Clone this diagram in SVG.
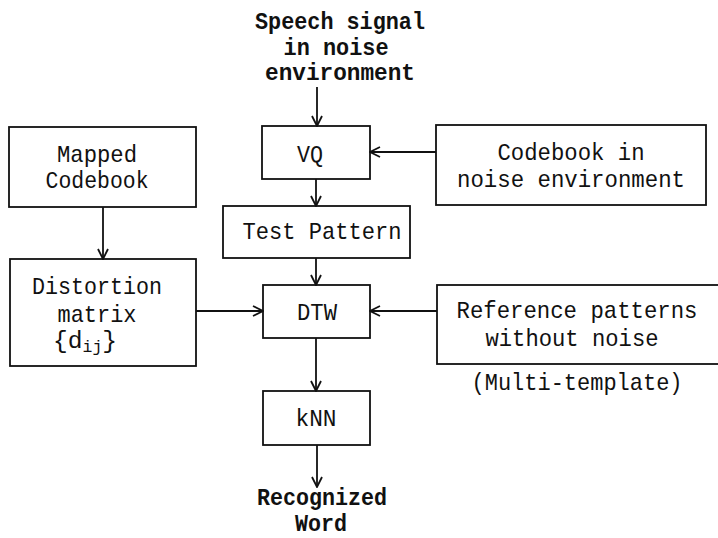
<svg xmlns="http://www.w3.org/2000/svg" width="718" height="538" viewBox="0 0 718 538">
<style>
.box{fill:none;stroke:#111;stroke-width:1.8}
.lbl{font-family:"Liberation Mono","DejaVu Sans Mono",monospace;font-size:24px;fill:#111;text-anchor:middle}
.bold{font-weight:bold}
.sub{font-size:16px}
.con{fill:none;stroke:#111;stroke-width:1.8}
</style>
<defs>
<marker id="arr" viewBox="0 0 12 12" refX="11" refY="6" markerWidth="12" markerHeight="12" markerUnits="userSpaceOnUse" orient="auto">
<path d="M1,1 L11,6 L1,11" fill="none" stroke="#111" stroke-width="1.8"/>
</marker>
</defs>
<rect width="718" height="538" fill="#fff"/>
<g id="input">
<text class="lbl bold" x="340" y="29" textLength="170" lengthAdjust="spacingAndGlyphs">Speech signal</text>
<text class="lbl bold" x="336" y="55" textLength="105" lengthAdjust="spacingAndGlyphs">in noise</text>
<text class="lbl bold" x="340" y="80" textLength="150" lengthAdjust="spacingAndGlyphs">environment</text>
</g>
<g id="vq">
<rect class="box" x="262" y="126" width="108" height="53"/>
<text class="lbl" x="310" y="162" textLength="26" lengthAdjust="spacingAndGlyphs">VQ</text>
</g>
<g id="codebook-noise">
<rect class="box" x="436" y="125" width="270" height="80"/>
<text class="lbl" x="571" y="160" textLength="147" lengthAdjust="spacingAndGlyphs">Codebook in</text>
<text class="lbl" x="571" y="187" textLength="228" lengthAdjust="spacingAndGlyphs">noise environment</text>
</g>
<g id="mapped-codebook">
<rect class="box" x="9" y="127" width="187" height="80"/>
<text class="lbl" x="97" y="162" textLength="80" lengthAdjust="spacingAndGlyphs">Mapped</text>
<text class="lbl" x="97" y="188" textLength="103" lengthAdjust="spacingAndGlyphs">Codebook</text>
</g>
<g id="test-pattern">
<rect class="box" x="223" y="206" width="187" height="52"/>
<text class="lbl" x="322" y="239" textLength="159" lengthAdjust="spacingAndGlyphs">Test Pattern</text>
</g>
<g id="distortion">
<rect class="box" x="10" y="259" width="186" height="107"/>
<text class="lbl" x="97" y="294" textLength="130" lengthAdjust="spacingAndGlyphs">Distortion</text>
<text class="lbl" x="97" y="322" textLength="79" lengthAdjust="spacingAndGlyphs">matrix</text>
<text class="lbl" x="85" y="348" textLength="64" lengthAdjust="spacingAndGlyphs">{d<tspan class="sub" dy="4">ij</tspan><tspan dy="-4">}</tspan></text>
</g>
<g id="dtw">
<rect class="box" x="263" y="285" width="107" height="53"/>
<text class="lbl" x="317" y="320" textLength="40" lengthAdjust="spacingAndGlyphs">DTW</text>
</g>
<g id="reference">
<rect class="box" x="437" y="285" width="290" height="79"/>
<text class="lbl" x="577" y="318" textLength="241" lengthAdjust="spacingAndGlyphs">Reference patterns</text>
<text class="lbl" x="572" y="346" textLength="173" lengthAdjust="spacingAndGlyphs">without noise</text>
</g>
<text class="lbl" x="577" y="390" textLength="211" lengthAdjust="spacingAndGlyphs">(Multi-template)</text>
<g id="knn">
<rect class="box" x="263" y="391" width="107" height="54"/>
<text class="lbl" x="316" y="426" textLength="41" lengthAdjust="spacingAndGlyphs">kNN</text>
</g>
<g id="output">
<text class="lbl bold" x="322" y="505" textLength="130" lengthAdjust="spacingAndGlyphs">Recognized</text>
<text class="lbl bold" x="321" y="531" textLength="52" lengthAdjust="spacingAndGlyphs">Word</text>
</g>
<g id="connectors">
<line class="con" x1="317" y1="87" x2="317" y2="126" marker-end="url(#arr)"/>
<line class="con" x1="436" y1="152" x2="370" y2="152" marker-end="url(#arr)"/>
<line class="con" x1="316" y1="179" x2="316" y2="206" marker-end="url(#arr)"/>
<line class="con" x1="103" y1="207" x2="103" y2="259" marker-end="url(#arr)"/>
<line class="con" x1="316" y1="258" x2="316" y2="285" marker-end="url(#arr)"/>
<line class="con" x1="196" y1="311" x2="263" y2="311" marker-end="url(#arr)"/>
<line class="con" x1="437" y1="311" x2="370" y2="311" marker-end="url(#arr)"/>
<line class="con" x1="316" y1="338" x2="316" y2="391" marker-end="url(#arr)"/>
<line class="con" x1="317" y1="445" x2="317" y2="487" marker-end="url(#arr)"/>
</g>
</svg>
